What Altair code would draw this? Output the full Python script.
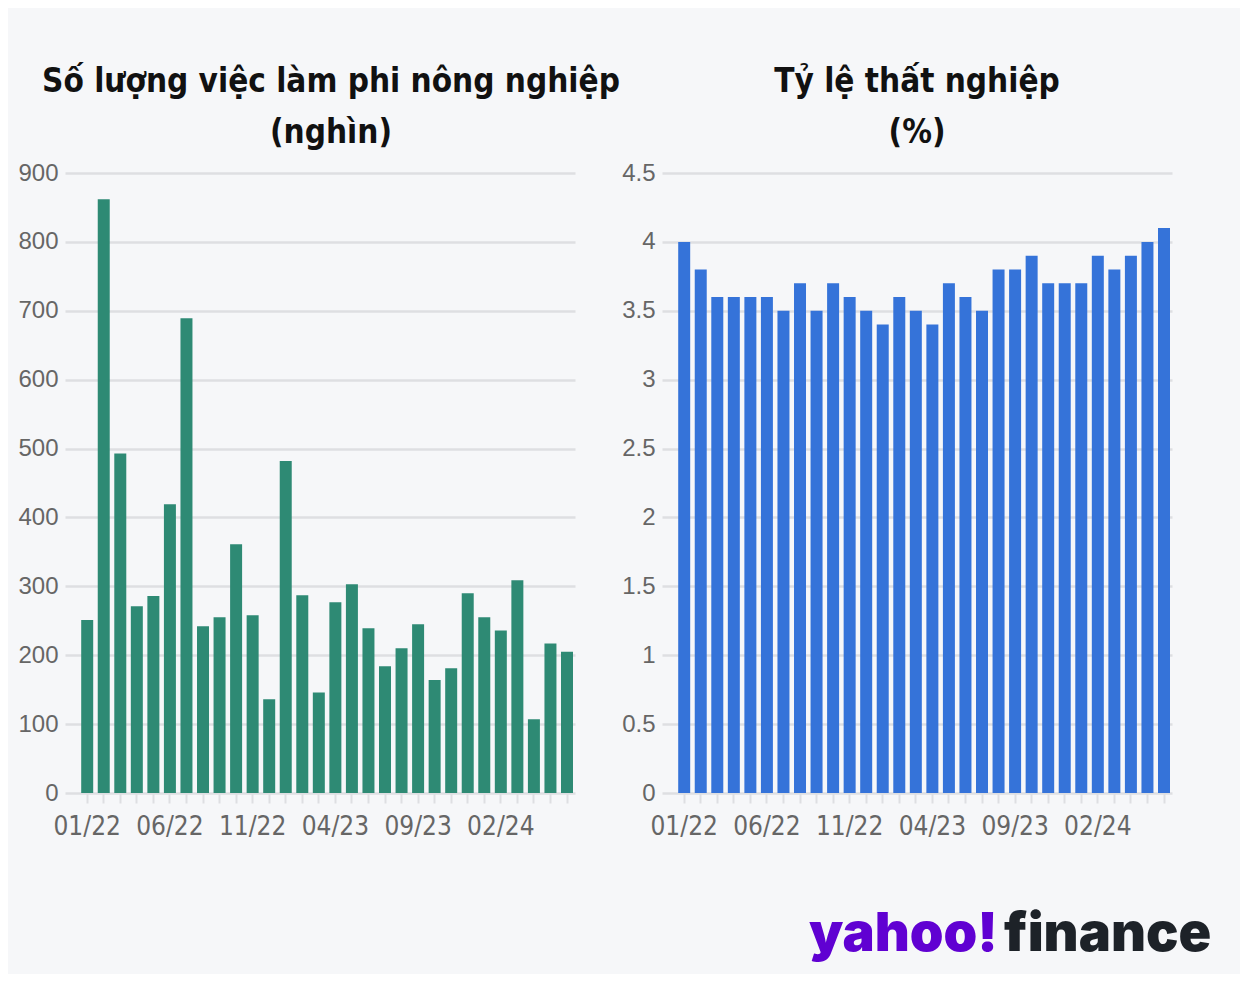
import altair as alt
import pandas as pd

months = ["01/22", "02/22", "03/22", "04/22", "05/22", "06/22", "07/22", "08/22", "09/22", "10/22",
          "11/22", "12/22", "01/23", "02/23", "03/23", "04/23", "05/23", "06/23", "07/23", "08/23",
          "09/23", "10/23", "11/23", "12/23", "01/24", "02/24", "03/24", "04/24", "05/24", "06/24"]
payrolls = [251, 862, 493, 271, 286, 419, 689, 242, 255, 361,
            258, 136, 482, 287, 146, 277, 303, 239, 184, 210,
            245, 164, 181, 290, 255, 236, 309, 107, 217, 205]
unemployment = [4.0, 3.8, 3.6, 3.6, 3.6, 3.6, 3.5, 3.7, 3.5, 3.7,
                3.6, 3.5, 3.4, 3.6, 3.5, 3.4, 3.7, 3.6, 3.5, 3.8,
                3.8, 3.9, 3.7, 3.7, 3.7, 3.9, 3.8, 3.9, 4.0, 4.1]
shown_labels = ["01/22", "06/22", "11/22", "04/23", "09/23", "02/24"]
left_title = ["Số lượng việc làm phi nông nghiệp", "(nghìn)"]
right_title = ["Tỷ lệ thất nghiệp", "(%)"]
left_ticks = [0, 100, 200, 300, 400, 500, 600, 700, 800, 900]
right_ticks = [0, 0.5, 1, 1.5, 2, 2.5, 3, 3.5, 4, 4.5]

df_left = pd.DataFrame({"month": months, "value": payrolls})
df_right = pd.DataFrame({"month": months, "value": unemployment})

NARROW = "DejaVu Sans Condensed, sans-serif"
GRID = "#dedfe2"
LABEL = "#666666"

label_expr = "indexof(" + str(shown_labels) + ", datum.value) >= 0 ? datum.value : ''"


def panel(df, color, title, ymax, ticks, dx, fmt):
    x = alt.X("month:N", sort=None,
              scale=alt.Scale(paddingInner=0.275, paddingOuter=0.55, align=0.89),
              axis=alt.Axis(title=None, domain=False, ticks=True, tickColor=GRID, tickWidth=2,
                            tickSize=10, labelAngle=0, labelOverlap=False, labelExpr=label_expr,
                            labelFont=NARROW, labelFontSize=26, labelColor=LABEL, labelPadding=10,
                            grid=False))
    y = alt.Y("value:Q", scale=alt.Scale(domain=[0, ymax], nice=False, zero=True),
              axis=alt.Axis(title=None, domain=False, ticks=False, values=ticks, format=fmt,
                            labelFont="Liberation Sans, Arial, sans-serif", labelFontSize=24,
                            labelColor=LABEL, labelPadding=7, grid=True, gridColor=GRID,
                            gridWidth=2.5))
    return alt.Chart(df).mark_bar(color=color).encode(x=x, y=y).properties(
        width=510, height=620,
        title=alt.TitleParams(text=title, anchor="middle", font=NARROW, fontSize=33,
                              fontWeight="bold", color="#111111", lineHeight=51, offset=11, dx=dx))


left = panel(df_left, "#2e8a74", left_title, 900, left_ticks, 11, "d")
right_bars = panel(df_right, "#3573d9", right_title, 4.5, right_ticks, 0, "")

logo_a = alt.Chart(pd.DataFrame({"t": ["yahoo!"]})).mark_text(
    align="left", baseline="alphabetic", font="Inter", fontSize=54, fontWeight=900, color="#6001d2"
).encode(text="t:N", x=alt.value(147), y=alt.value(778))
logo_b = alt.Chart(pd.DataFrame({"t": ["finance"]})).mark_text(
    align="left", baseline="alphabetic", font="Inter", fontSize=54, fontWeight=900, color="#1d2228"
).encode(text="t:N", x=alt.value(342), y=alt.value(778))

right = alt.layer(right_bars, logo_a, logo_b)

chart = alt.hconcat(left, right, spacing=87, bounds="flush").configure(
    background="#f6f7f9",
).configure_view(stroke=None).properties(padding={"top": 58, "left": 9, "right": 28, "bottom": 12})

chart.save("out.html", embed_options={"renderer": "svg", "actions": False})
